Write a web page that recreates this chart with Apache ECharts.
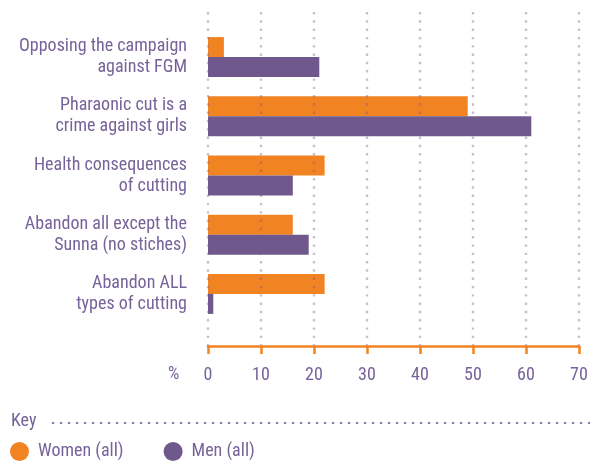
<!DOCTYPE html>
<html>
<head>
<meta charset="utf-8">
<script src="https://cdn.jsdelivr.net/npm/echarts@6/dist/echarts.min.js"></script>
<style>
  html, body { margin: 0; padding: 0; background: #ffffff; }
  #chart { width: 600px; height: 465px; }
</style>
</head>
<body>
<div id="chart"></div>
<script>
// Survey statements (top to bottom)
const categories = [
  'Opposing the campaign\nagainst FGM',
  'Pharaonic cut is a\ncrime against girls',
  'Health consequences\nof cutting',
  'Abandon all except the\nSunna (no stiches)',
  'Abandon ALL\ntypes of cutting'
];
// Percentages per group
const women = [3, 49, 22, 16, 22];
const men = [21, 61, 16, 19, 1];
const seriesNames = ['Women (all)', 'Men (all)'];
// Value axis range and step
const axisMin = 0;
const axisMax = 70;
const axisStep = 10;

const ORANGE = '#f28322';
const PURPLE = '#6f588c';
const TEXT = '#76639a';
const FONT = '"Roboto Condensed", "Liberation Sans Narrow", Roboto, sans-serif';

const chart = echarts.init(document.getElementById('chart'), null, { renderer: 'canvas' });

chart.setOption({
  animation: false,
  backgroundColor: '#ffffff',
  textStyle: { fontFamily: FONT },
  grid: [
    // frame for the dotted guides and the value axis
    { left: 208, right: 21, top: 12, bottom: 119, outerBoundsMode: 'none', containLabel: false },
    // frame for the bars and statement labels
    { left: 208, right: 21, top: 27.5, height: 296, outerBoundsMode: 'none', containLabel: false }
  ],
  xAxis: [
    {
      gridIndex: 0,
      type: 'value',
      min: axisMin,
      max: axisMax,
      interval: axisStep,
      z: 5,
      axisLine: { show: true, lineStyle: { color: ORANGE, width: 2.5 } },
      axisTick: { show: true, length: 8, lineStyle: { color: ORANGE, width: 2.5 } },
      axisLabel: { color: TEXT, fontSize: 18, fontFamily: FONT, margin: 20 },
      splitLine: {
        show: true,
        lineStyle: { color: 'rgba(111,88,140,0.38)', width: 2.4, type: [2.4, 5.9] }
      }
    },
    {
      gridIndex: 1,
      type: 'value',
      min: axisMin,
      max: axisMax,
      show: false
    }
  ],
  yAxis: [
    {
      gridIndex: 0,
      type: 'category',
      data: categories,
      show: false
    },
    {
      gridIndex: 1,
      type: 'category',
      data: categories,
      inverse: true,
      axisLine: { show: false },
      axisTick: { show: false },
      splitLine: { show: false },
      axisLabel: {
        color: TEXT,
        fontSize: 18,
        lineHeight: 21,
        fontFamily: FONT,
        margin: 21,
        align: 'right'
      }
    }
  ],
  legend: {
    left: 5,
    top: 437,
    icon: 'circle',
    itemWidth: 19,
    itemHeight: 19,
    itemGap: 40,
    textStyle: { color: TEXT, fontSize: 18, fontFamily: FONT, padding: [0, 0, 0, 4] },
    data: seriesNames
  },
  graphic: [
    {
      type: 'text',
      left: 168,
      top: 365,
      style: { text: '%', fill: TEXT, font: '18px ' + FONT }
    },
    {
      type: 'text',
      left: 11,
      top: 412,
      style: { text: 'Key', fill: TEXT, font: '18px ' + FONT }
    },
    {
      type: 'line',
      shape: { x1: 52, y1: 423, x2: 590, y2: 423 },
      style: { stroke: '#8a7aa6', lineWidth: 2.2, lineDash: [2.2, 5.8] }
    }
  ],
  series: [
    {
      name: seriesNames[0],
      type: 'bar',
      xAxisIndex: 1,
      yAxisIndex: 1,
      data: women,
      barWidth: 20,
      barGap: '0%',
      itemStyle: { color: ORANGE }
    },
    {
      name: seriesNames[1],
      type: 'bar',
      xAxisIndex: 1,
      yAxisIndex: 1,
      data: men,
      barWidth: 20,
      barGap: '0%',
      itemStyle: { color: PURPLE }
    }
  ]
});
</script>
</body>
</html>
